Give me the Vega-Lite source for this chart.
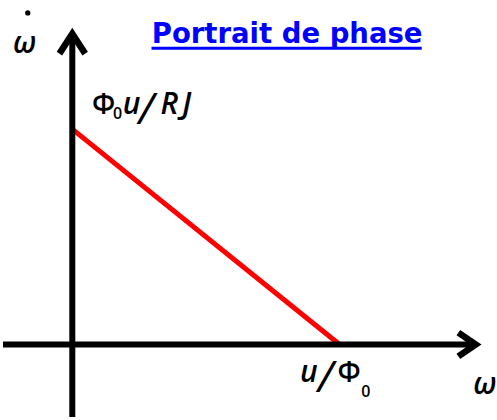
{
  "$schema": "https://vega.github.io/schema/vega-lite/v6.json",
  "width": 497,
  "height": 420,
  "autosize": {"type": "fit", "contains": "padding"},
  "padding": 0,
  "background": "white",
  "config": {"view": {"stroke": null}},
  "datasets": {
    "axes": [
      {"name": "omega", "x": -0.2593, "y": 0, "x2": 1.5096, "y2": 0},
      {"name": "omega_dot", "x": 0, "y": -0.3364, "x2": 0, "y2": 1.4424}
    ],
    "arrowheads": [
      {"axis": "omega", "k": 0, "x": 1.4444, "y": 0.0553},
      {"axis": "omega", "k": 1, "x": 1.5096, "y": 0},
      {"axis": "omega", "k": 2, "x": 1.4444, "y": -0.0553},
      {"axis": "omega_dot", "k": 0, "x": -0.0481, "y": 1.3502},
      {"axis": "omega_dot", "k": 1, "x": 0, "y": 1.4424},
      {"axis": "omega_dot", "k": 2, "x": 0.0481, "y": 1.3502}
    ],
    "portrait": [
      {"x": 0, "y": 1},
      {"x": 1, "y": 0}
    ],
    "labels": [
      {"part": "upright", "t": "Φ", "x": 0.0741, "y": 1.0691},
      {"part": "sub", "t": "0", "x": 0.1519, "y": 1.0461},
      {"part": "italic", "t": "u", "x": 0.1889, "y": 1.0691},
      {"part": "slash", "t": "/", "x": 0.2481, "y": 1.0230},
      {"part": "italic", "t": "R", "x": 0.3296, "y": 1.0691},
      {"part": "italic", "t": "J", "x": 0.4111, "y": 1.0691},
      {"part": "italic", "t": "u", "x": 0.8519, "y": -0.1751},
      {"part": "slash", "t": "/", "x": 0.9185, "y": -0.2212},
      {"part": "upright", "t": "Φ", "x": 0.9926, "y": -0.1751},
      {"part": "sub", "t": "0", "x": 1.0815, "y": -0.2442},
      {"part": "italic", "t": "ω", "x": 1.5000, "y": -0.2304},
      {"part": "italic", "t": "ω", "x": -0.2222, "y": 1.3548}
    ],
    "dot": [
      {"x": -0.1667, "y": 1.5392}
    ],
    "heading": [
      {"t": "Portrait de phase", "x": 0.8037, "y": 1.4009, "x2": 1.3074, "xs": 0.2963, "yu": 1.3756}
    ]
  },
  "encoding": {
    "x": {"field": "x", "type": "quantitative", "scale": {"domain": [-0.2593, 1.5815], "nice": false, "zero": false}, "axis": null},
    "y": {"field": "y", "type": "quantitative", "scale": {"domain": [-0.3364, 1.5991], "nice": false, "zero": false}, "axis": null}
  },
  "layer": [
    {
      "data": {"name": "portrait"},
      "mark": {"type": "line", "color": "#ff0000", "strokeWidth": 5, "strokeCap": "butt"},
      "encoding": {}
    },
    {
      "data": {"name": "axes"},
      "mark": {"type": "rule", "color": "black", "strokeWidth": 6, "strokeCap": "butt"},
      "encoding": {
        "x2": {"field": "x2"},
        "y2": {"field": "y2"},
        "strokeWidth": {"condition": {"test": "datum.name === 'omega_dot'", "value": 7}, "value": 6}
      }
    },
    {
      "data": {"name": "arrowheads"},
      "mark": {"type": "line", "color": "black", "strokeWidth": 6.5, "strokeJoin": "miter", "strokeCap": "butt"},
      "encoding": {
        "detail": {"field": "axis"},
        "order": {"field": "k", "type": "quantitative"}
      }
    },
    {
      "data": {"name": "labels"},
      "transform": [{"filter": "datum.part === 'italic'"}],
      "mark": {"type": "text", "font": "Open Sans", "fontStyle": "italic", "fontWeight": 600, "fontSize": 30, "align": "left", "baseline": "alphabetic", "color": "black"},
      "encoding": {"text": {"field": "t"}}
    },
    {
      "data": {"name": "labels"},
      "transform": [{"filter": "datum.part === 'slash'"}],
      "mark": {"type": "text", "font": "Open Sans", "fontStyle": "italic", "fontSize": 44, "align": "left", "baseline": "alphabetic", "color": "black"},
      "encoding": {"text": {"field": "t"}}
    },
    {
      "data": {"name": "labels"},
      "transform": [{"filter": "datum.part === 'upright'"}],
      "mark": {"type": "text", "font": "Open Sans", "fontWeight": 600, "fontSize": 28, "align": "left", "baseline": "alphabetic", "color": "black"},
      "encoding": {"text": {"field": "t"}}
    },
    {
      "data": {"name": "labels"},
      "transform": [{"filter": "datum.part === 'sub'"}],
      "mark": {"type": "text", "font": "Open Sans", "fontWeight": 600, "fontSize": 16, "align": "left", "baseline": "alphabetic", "color": "black"},
      "encoding": {"text": {"field": "t"}}
    },
    {
      "data": {"name": "dot"},
      "mark": {"type": "point", "filled": true, "color": "black", "size": 28, "opacity": 1}
    },
    {
      "data": {"name": "heading"},
      "mark": {"type": "rule", "color": "#0000ff", "strokeWidth": 3},
      "encoding": {
        "x": {"field": "xs", "type": "quantitative"},
        "x2": {"field": "x2"},
        "y": {"field": "yu", "type": "quantitative"}
      }
    },
    {
      "data": {"name": "heading"},
      "mark": {"type": "text", "font": "DejaVu Sans", "fontWeight": "bold", "fontSize": 27.5, "align": "center", "baseline": "alphabetic", "color": "#0000ff"},
      "encoding": {"text": {"field": "t"}}
    }
  ]
}
